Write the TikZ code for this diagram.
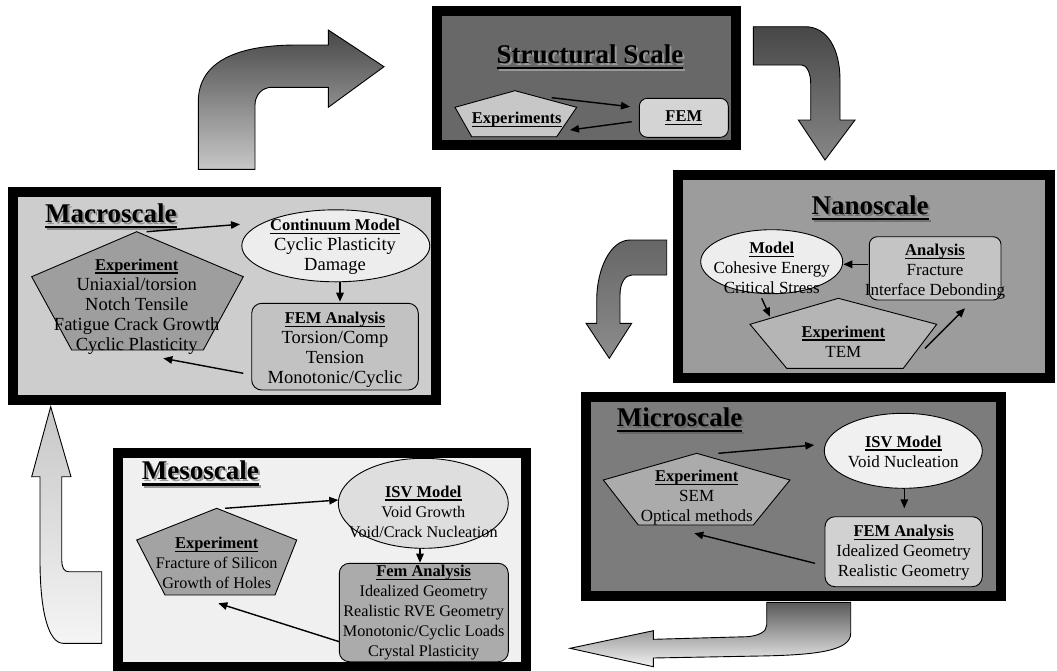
\documentclass[tikz,border=0pt]{standalone}
\usepackage{fontspec}
\setmainfont{Liberation Serif}
\usetikzlibrary{arrows.meta}
\newcommand{\myul}[3]{{\setbox0\hbox{#3}\dp0=0pt\vtop{\box0\kern#1\hrule height#2}}}
\newcommand{\hd}[1]{{\fontsize{16.5}{20}\selectfont\bfseries\myul{2.2pt}{1.3pt}{#1}}}
\newcommand{\ttl}[1]{{\fontsize{27}{30}\selectfont\bfseries\myul{3.5pt}{2.2pt}{#1}}}
\definecolor{cStr}{HTML}{686868}
\definecolor{cNano}{HTML}{9C9C9C}
\definecolor{cMacro}{HTML}{CDCDCD}
\definecolor{cMicro}{HTML}{7C7C7C}
\definecolor{cMeso}{HTML}{F0F0F0}
\tikzset{
  frame/.style={draw=black, line width=10pt},
  shp/.style={draw=black, line width=0.9pt},
  rbox/.style={draw=black, line width=0.9pt, rounded corners=8pt},
  txt/.style={align=center, inner sep=0pt},
  conn/.style={line width=1.4pt, -{Triangle[length=9pt,width=7.5pt]}},
  blk/.style={draw=black, line width=0.9pt},
}
\begin{document}
\begin{tikzpicture}[x=1pt,y=-1pt]
\useasboundingbox (0,0) rectangle (1057,670);
\fill[white] (0,0) rectangle (1057,670);

% ---------- block arrows ----------
\shadedraw[blk, top color=black!72, bottom color=black!22]
 (198.3,169.3) -- (198.3,101.7) .. controls (198.3,60) and (240,45) .. (296.7,45)
 -- (328.3,45) -- (328.3,30) -- (384,66.7) -- (328.3,107.3) -- (328.3,87.3)
 -- (272,87.3) .. controls (262,87.3) and (255,95) .. (255,105) -- (255,169.3) -- cycle;
\shadedraw[blk, top color=black!72, bottom color=black!47]
 (753.3,26.7) -- (805,26.7) .. controls (828,26.7) and (840,50) .. (840,80)
 -- (840,120) -- (855,120) -- (825,160) -- (798.3,120) -- (810.7,120)
 -- (810.7,83.3) .. controls (810.7,72) and (806,65) .. (801.7,65) -- (753.3,65) -- cycle;
\shadedraw[blk, top color=black!60, bottom color=black!45]
 (666.7,240) -- (630,240) .. controls (610,240) and (596.7,270) .. (596.7,300)
 -- (596.7,323.3) -- (586,323.3) -- (609.3,358.3) -- (631.7,323.3) -- (620,323.3)
 -- (620,295) .. controls (620,283) and (625,275) .. (632,275) -- (666.7,275) -- cycle;
\shadedraw[blk, top color=black!65, bottom color=black!5]
 (766.7,602.3) -- (850.7,602.3) -- (850.7,633.3) .. controls (850.7,650) and (820,655) .. (760,656)
 -- (653.3,658) -- (653.3,666.7) -- (570,648.3) -- (653.3,630.7) -- (653.3,639.3)
 -- (746.7,636.7) .. controls (758,636) and (766.7,632) .. (766.7,625) -- cycle;
\shadedraw[blk, top color=black!22, bottom color=black!4]
 (50.7,406.7) -- (71,476.7) -- (61.7,476.7) -- (61.7,560) .. controls (61.7,567) and (64,571.7) .. (68.3,571.7)
 -- (101.7,571.7) -- (101.7,643.3) -- (63.3,643.3) .. controls (48,643.3) and (40,610) .. (40,560)
 -- (40,476.7) -- (31.7,476.7) -- cycle;

% ---------- Structural Scale ----------
\draw[frame, fill=cStr] (436.7,11) rectangle (736.3,145);
\node[txt, text=black!40] at (592,59) {\ttl{Structural Scale}};
\node[txt] (stitle) at (590,57) {\ttl{Structural Scale}};
\draw[shp, fill=black!22] (515,90.7) -- (576.7,107.3) -- (556.7,136.7) -- (471.7,136.7) -- (455,107.3) -- cycle;
\node[txt] (sexp) at (516.7,120) {\hd{Experiments}};
\node[rbox, fill=black!17, minimum width=89pt, minimum height=39pt, inner sep=0pt] (sfem) at (683.8,117.8) {\hd{FEM}};
\coordinate (s1) at (551.7,97.7);
\coordinate (s2) at (630,106.7);
\coordinate (s3) at (631.7,121.7);
\coordinate (s4) at (570,130);
\draw[conn] (s1) -- (s2);
\draw[conn] (s3) -- (s4);

% ---------- Nanoscale ----------
\draw[frame, fill=cNano] (678,175) rectangle (1050,378);
\node[txt, text=black!55] at (872,210) {\ttl{Nanoscale}};
\node[txt] (ntitle) at (870,208) {\ttl{Nanoscale}};
\draw[shp, fill=black!7] (771.7,261.7) ellipse [x radius=71, y radius=32];
\draw[shp, rounded corners=8pt, fill=black!23] (869.3,236.7) rectangle (1001,300);
\draw[shp, fill=black!29] (838.3,298.3) -- (936.7,324.3) -- (903.3,368.3) -- (786.7,368.3) -- (750,324.3) -- cycle;
\node[txt, font=\fontsize{17}{20}\selectfont] (nmod) at (771.7,268) {\hd{Model}\\Cohesive Energy\\Critical Stress};
\node[txt, font=\fontsize{17}{20}\selectfont] (nana) at (935,271.5) {\hd{Analysis}\\Fracture\\Interface Debonding};
\node[txt, font=\fontsize{17}{20}\selectfont] (nexp) at (843.3,341.5) {\hd{Experiment}\\TEM};
\coordinate (n1) at (868.3,264.3);
\coordinate (n2) at (843.3,264.3);
\coordinate (n3) at (761.7,298.3);
\coordinate (n4) at (770,316.7);
\coordinate (n5) at (925,348.3);
\coordinate (n6) at (965,308.3);
\draw[conn] (n1) -- (n2);
\draw[conn] (n3) -- (n4);
\draw[conn] (n5) -- (n6);

% ---------- Macroscale ----------
\draw[frame, fill=cMacro] (12.5,191.7) rectangle (436,400);
\node[txt, anchor=west, text=black!45] at (47,218) {\ttl{Macroscale}};
\node[txt, anchor=west] (mtitle) at (45,216) {\ttl{Macroscale}};
\draw[shp, fill=black!38] (136.7,231.7) -- (243.3,276.7) -- (203.3,350) -- (71.7,350) -- (31.7,276.7) -- cycle;
\draw[shp, fill=black!7] (335.8,245.8) ellipse [x radius=94, y radius=36];
\draw[shp, rounded corners=10pt, fill=black!24] (251.7,303.3) rectangle (418.3,390);
\node[txt, font=\fontsize{18.5}{20}\selectfont] (mexp) at (136.7,306.5) {\hd{Experiment}\\Uniaxial/torsion\\Notch Tensile\\Fatigue Crack Growth\\Cyclic Plasticity};
\node[txt, font=\fontsize{18.5}{20}\selectfont] (mcon) at (335,247) {\hd{Continuum Model}\\Cyclic Plasticity\\Damage};
\node[txt, font=\fontsize{18.5}{20}\selectfont] (mfem) at (335,350) {\hd{FEM Analysis}\\Torsion/Comp\\Tension\\Monotonic/Cyclic};
\coordinate (m1) at (146.7,231.7);
\coordinate (m2) at (240,224.3);
\coordinate (m3) at (340,281.7);
\coordinate (m4) at (340,301.7);
\coordinate (m5) at (243.3,373.3);
\coordinate (m6) at (163.3,358.3);
\draw[conn] (m1) -- (m2);
\draw[conn] (m3) -- (m4);
\draw[conn] (m5) -- (m6);

% ---------- Microscale ----------
\draw[frame, fill=cMicro] (586,396.7) rectangle (1001,596);
\node[txt, anchor=west, text=black!60] at (618.7,422) {\ttl{Microscale}};
\node[txt, anchor=west] (ititle) at (616.7,420) {\ttl{Microscale}};
\draw[shp, fill=black!33] (696.7,453.3) -- (790,480) -- (753.3,525) -- (638.3,525) -- (603.3,480) -- cycle;
\draw[shp, fill=black!6] (903.3,450.8) ellipse [x radius=79, y radius=37.5];
\draw[shp, rounded corners=10pt, fill=black!18] (825,516.7) rectangle (982.3,586.7);
\node[txt, font=\fontsize{17}{20}\selectfont] (iexp) at (696.7,498) {\hd{Experiment}\\SEM\\Optical methods};
\node[txt, font=\fontsize{17}{20}\selectfont] (iisv) at (903.3,451.5) {\hd{ISV Model}\\Void Nucleation};
\node[txt, font=\fontsize{17}{20}\selectfont] (ifem) at (903.7,553) {\hd{FEM Analysis}\\Idealized Geometry\\Realistic Geometry};
\coordinate (i1) at (718.3,453.3);
\coordinate (i2) at (814.3,445);
\coordinate (i3) at (904.3,488.3);
\coordinate (i4) at (904.3,508.3);
\coordinate (i5) at (815,563.3);
\coordinate (i6) at (694.3,533.3);
\draw[conn] (i1) -- (i2);
\draw[conn] (i3) -- (i4);
\draw[conn] (i5) -- (i6);

% ---------- Mesoscale ----------
\draw[frame, fill=cMeso] (118.3,453.3) rectangle (525.7,666.7);
\node[txt, anchor=west, text=black!40] at (143.7,475.3) {\ttl{Mesoscale}};
\node[txt, anchor=west] (etitle) at (141.7,473.3) {\ttl{Mesoscale}};
\draw[shp, fill=black!36] (216.7,508.3) -- (296.7,540) -- (275,595) -- (165,595) -- (136.7,540) -- cycle;
\draw[shp, fill=black!13] (423.3,503.3) ellipse [x radius=85, y radius=45];
\draw[shp, rounded corners=10pt, fill=black!33] (339.3,563.3) rectangle (508.3,661.7);
\node[txt, font=\fontsize{16.2}{20}\selectfont] (eexp) at (216.7,563) {\hd{Experiment}\\Fracture of Silicon\\Growth of Holes};
\node[txt, font=\fontsize{16.2}{20}\selectfont] (eisv) at (423.3,511.5) {\hd{ISV Model}\\Void Growth\\Void/Crack Nucleation};
\node[txt, font=\fontsize{16.2}{20}\selectfont] (efem) at (423.7,613) {\hd{Fem Analysis}\\Idealized Geometry\\Realistic RVE Geometry\\Monotonic/Cyclic Loads\\Crystal Plasticity};
\coordinate (e1) at (225,508.3);
\coordinate (e2) at (338.3,500);
\coordinate (e3) at (420,548.3);
\coordinate (e4) at (420,562.7);
\coordinate (e5) at (339.3,641.7);
\coordinate (e6) at (218.3,603.3);
\draw[conn] (e1) -- (e2);
\draw[conn] (e3) -- (e4);
\draw[conn] (e5) -- (e6);
\end{tikzpicture}
\end{document}
